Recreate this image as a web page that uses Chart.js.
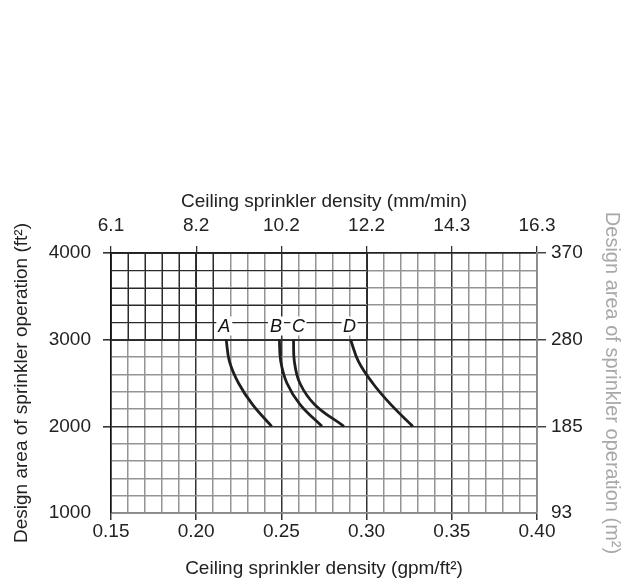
<!DOCTYPE html>
<html><head><meta charset="utf-8">
<script src="https://cdn.jsdelivr.net/npm/chart.js@4.4.1/dist/chart.umd.min.js"></script>
<style>html,body{margin:0;padding:0;background:#fff}#wrap{width:624px;height:585px}</style>
</head><body><div id="wrap"><canvas id="c" width="624" height="585"></canvas></div>
<script>
// ---- data ----
const curveNames = ['A', 'B', 'C', 'D'];
const curveA_x = [0.2176, 0.2195, 0.2248, 0.2331, 0.2443];
const curveA_y = [3000, 2750, 2500, 2250, 2000];
const curveB_x = [0.2488, 0.2496, 0.2532, 0.2610, 0.2738];
const curveB_y = [3000, 2750, 2500, 2250, 2000];
const curveC_x = [0.2571, 0.2576, 0.2608, 0.2696, 0.2867];
const curveC_y = [3000, 2750, 2500, 2250, 2000];
const curveD_x = [0.2906, 0.2952, 0.3035, 0.3143, 0.3271];
const curveD_y = [3000, 2750, 2500, 2250, 2000];
const labelX = [0.2165, 0.2468, 0.2600, 0.2900];
const labelY = [3152, 3152, 3152, 3152];

const bottomTicks = [0.15, 0.20, 0.25, 0.30, 0.35, 0.40];
const bottomTickLabels = ['0.15', '0.20', '0.25', '0.30', '0.35', '0.40'];
const topTickLabels = ['6.1', '8.2', '10.2', '12.2', '14.3', '16.3'];
const leftTicks = [1000, 2000, 3000, 4000];
const leftTickLabels = ['1000', '2000', '3000', '4000'];
const rightTickLabels = ['93', '185', '280', '370'];

const xMin = 0.15, xMax = 0.40, xMinor = 0.01;
const yMin = 1000, yMax = 4000, yMinor = 200;

// ---- helpers ----
const near = (a, b, e) => Math.abs(a - b) < e;
const isMajorX = v => bottomTicks.some(t => near(t, v, 1e-6));
const isMajorY = v => leftTicks.some(t => near(t, v, 1e-6));
function minorTicks(min, max, step, dec) {
  const out = [];
  const n = Math.round((max - min) / step);
  for (let i = 0; i <= n; i++) out.push({ value: +(min + i * step).toFixed(dec) });
  return out;
}
const pts = (xs, ys) => xs.map((x, i) => ({ x: x, y: ys[i] }));
const curves = [pts(curveA_x, curveA_y), pts(curveB_x, curveB_y), pts(curveC_x, curveC_y), pts(curveD_x, curveD_y)];

const FONT = "'Liberation Sans', Arial, Helvetica, sans-serif";
Chart.defaults.font.family = FONT;
Chart.defaults.color = '#222';

const overlay = {
  id: 'overlay',
  beforeDatasetsDraw(chart) {
    // crisp dark grid block (upper-left region of the scanned original)
    const { ctx, scales: { x, y } } = chart;
    ctx.save();
    ctx.strokeStyle = '#2a2a2a';
    ctx.lineWidth = 1;
    const xl = x.getPixelForValue(0.15), xr = x.getPixelForValue(0.30);
    const yt = y.getPixelForValue(4000), yb = y.getPixelForValue(3000);
    for (let v = 3000; v <= 4000; v += yMinor) {
      const py = Math.round(y.getPixelForValue(v)) + 0.5;
      ctx.beginPath(); ctx.moveTo(xl, py); ctx.lineTo(xr, py); ctx.stroke();
    }
    for (let i = 0; i <= 6; i++) {
      const px = Math.round(x.getPixelForValue(0.15 + i * xMinor)) + 0.5;
      ctx.beginPath(); ctx.moveTo(px, yt); ctx.lineTo(px, yb); ctx.stroke();
    }
    const p30 = Math.round(x.getPixelForValue(0.30)) + 0.5;
    ctx.beginPath(); ctx.moveTo(p30, yt); ctx.lineTo(p30, yb); ctx.stroke();
    ctx.restore();
  },
  afterDatasetsDraw(chart) {
    const { ctx, scales: { x, y } } = chart;
    ctx.save();
    ctx.font = 'italic 18px ' + FONT;
    ctx.textAlign = 'center';
    ctx.textBaseline = 'middle';
    curveNames.forEach((n, i) => {
      const px = x.getPixelForValue(labelX[i]);
      const py = y.getPixelForValue(labelY[i]);
      ctx.fillStyle = '#fff';
      ctx.fillRect(px - 8, py - 10, 16, 19);
      ctx.fillStyle = '#111';
      ctx.fillText(n, px, py + 1);
    });
    ctx.restore();
  }
};

new Chart(document.getElementById('c'), {
  type: 'scatter',
  data: {
    datasets: curves.map((d, i) => ({
      label: curveNames[i],
      data: d,
      showLine: true,
      borderColor: '#1e1e1e',
      borderWidth: 2.8,
      pointRadius: 0,
      tension: 0.4,
      xAxisID: 'x',
      yAxisID: 'y'
    }))
  },
  options: {
    responsive: false,
    animation: false,
    devicePixelRatio: 1,
    layout: { padding: { top: 190, left: 0, right: 0, bottom: 0 } },
    plugins: { legend: { display: false }, tooltip: { enabled: false } },
    scales: {
      x: {
        type: 'linear', position: 'bottom', min: xMin, max: xMax,
        afterBuildTicks: s => { s.ticks = minorTicks(xMin, xMax, xMinor, 2); },
        afterFit: s => { s.height = 72; },
        ticks: {
          autoSkip: false, maxRotation: 0, padding: 0,
          font: { size: 19 }, color: '#222',
          callback: v => { const i = bottomTicks.findIndex(t => near(t, v, 1e-6)); return i >= 0 ? bottomTickLabels[i] : ''; }
        },
        grid: {
          color: c => (c.tick && isMajorX(c.tick.value)) ? '#333' : '#949494',
          lineWidth: 1.5,
          tickLength: 7,
          tickColor: c => (c.tick && isMajorX(c.tick.value)) ? '#333' : 'rgba(0,0,0,0)'
        },
        border: { display: true, color: '#8a8a8a', width: 1.5 },
        title: { display: true, text: 'Ceiling sprinkler density (gpm/ft²)', font: { size: 19 }, color: '#222', padding: { top: 0, bottom: 5 } }
      },
      x2: {
        type: 'linear', position: 'top', min: xMin, max: xMax,
        afterBuildTicks: s => { s.ticks = bottomTicks.map(v => ({ value: v })); },
        afterFit: s => { s.height = 63; },
        ticks: {
          autoSkip: false, maxRotation: 0, padding: 9,
          font: { size: 19 }, color: '#222',
          callback: v => { const i = bottomTicks.findIndex(t => near(t, v, 1e-6)); return i >= 0 ? topTickLabels[i] : ''; }
        },
        grid: { drawOnChartArea: false, tickLength: 7, tickColor: '#333', lineWidth: 1.3 },
        border: { display: true, color: '#222', width: 1.5 },
        title: { display: true, text: 'Ceiling sprinkler density (mm/min)', font: { size: 19 }, color: '#222', padding: { top: 0, bottom: 0 } }
      },
      y: {
        type: 'linear', position: 'left', min: yMin, max: yMax,
        afterBuildTicks: s => { s.ticks = minorTicks(yMin, yMax, yMinor, 0); },
        afterFit: s => { s.width = 111; },
        ticks: {
          autoSkip: false, padding: 12,
          font: { size: 19 }, color: '#222',
          callback: v => { const i = leftTicks.findIndex(t => near(t, v, 1e-6)); return i >= 0 ? leftTickLabels[i] : ''; }
        },
        grid: {
          color: c => (c.tick && isMajorY(c.tick.value)) ? '#333' : '#949494',
          lineWidth: c => (c.tick && isMajorY(c.tick.value)) ? 1.6 : 1.5,
          tickLength: 8,
          tickColor: c => (c.tick && isMajorY(c.tick.value) && c.tick.value > 1000) ? '#333' : 'rgba(0,0,0,0)'
        },
        border: { display: true, color: '#111', width: 1.5 },
        title: { display: true, text: 'Design area of sprinkler operation (ft²)', font: { size: 19 }, color: '#222', padding: { top: 10, bottom: 0 } }
      },
      y2: {
        type: 'linear', position: 'right', min: yMin, max: yMax,
        afterBuildTicks: s => { s.ticks = leftTicks.map(v => ({ value: v })); },
        afterFit: s => { s.width = 87; },
        ticks: {
          autoSkip: false, padding: 5,
          font: { size: 19 }, color: '#222',
          callback: v => { const i = leftTicks.findIndex(t => near(t, v, 1e-6)); return i >= 0 ? rightTickLabels[i] : ''; }
        },
        grid: {
          drawOnChartArea: false, tickLength: 9, lineWidth: 1.5,
          tickColor: c => (c.tick && c.tick.value > 1000) ? '#444' : 'rgba(0,0,0,0)'
        },
        border: { display: true, color: '#8a8a8a', width: 1.5 },
        title: { display: true, text: 'Design area of sprinkler operation (m²)', font: { size: 20 }, color: '#a8a8a8', padding: { top: 0, bottom: 0 } }
      }
    }
  },
  plugins: [overlay]
});
</script>
</body></html>
